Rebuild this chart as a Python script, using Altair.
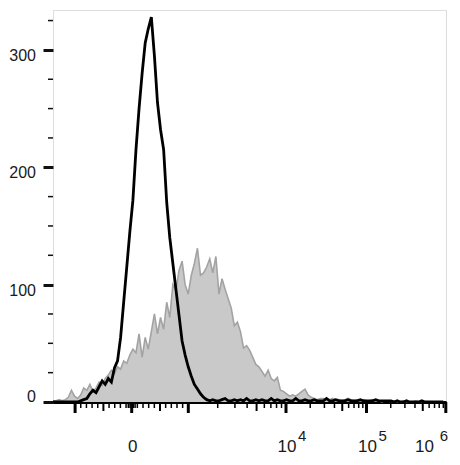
import math
import altair as alt
import pandas as pd

# ---------------- data ----------------
# 128 histogram bins on the display (channel) axis, channel 0..1023
n_bins = 128
channel = [i * 8 for i in range(n_bins)]

# isotype control (black outline)
isotype = [
    0, 0, 0, 0, 0, 0, 0, 0, 0,
    1, 2, 3, 7, 10, 8, 13, 18, 15, 20, 17, 29, 35, 55, 85, 115, 145, 172, 215, 250,
    280, 306, 318, 328, 295, 255, 232, 215, 170, 140, 118, 96, 74, 52, 40, 30, 22,
    15, 11, 7, 4, 2,
    1, 2, 1, 1, 2, 3, 1, 1, 2, 1, 2, 1, 3, 1, 1, 2, 1, 2, 1, 1,
    3, 1, 2, 1, 1, 2, 1, 1, 3, 1, 1, 2, 1, 1, 2, 1, 1, 1, 3, 1,
    1, 2, 1, 1, 1, 2, 1, 1, 1, 2, 1, 1, 1, 1, 2, 1, 1, 1, 1, 1,
    0, 1, 0, 0, 1, 0, 0, 0, 0, 1, 0, 0, 0, 0, 0, 0, 0,
]

# stained sample (grey filled)
stained = [
    1, 1, 2, 1, 2, 4, 10, 5, 3, 6, 12, 10, 15, 9, 12, 17, 14, 20, 23, 27,
    24, 30, 28, 35, 33, 40, 45, 42, 58, 38, 55, 45, 60, 75, 58, 72, 62, 85, 72, 100,
    95, 112, 120, 100, 92, 108, 118, 131, 108, 110, 115, 122, 110, 124, 92, 105, 96, 88, 80, 65,
    68, 60, 46, 48, 44, 38, 32, 30, 26, 22, 27, 20, 18, 21, 10, 9, 7, 5, 6, 5,
    7, 9, 11, 6, 4, 3, 2, 3, 3, 2, 2, 3, 2, 2, 1, 2, 3, 2, 1, 2,
    1, 2, 1, 1, 2, 1,
    1, 0, 1, 1, 0, 1, 0, 0, 1, 0, 0, 0, 1, 0, 0, 0, 0, 0, 0, 0, 0, 0,
]

# axis definitions (data values on the biexponential axis)
x_major_values = [-1000, 0, 1000, 1e4, 1e5, 1e6]
x_linear_minor = [-900, -800, -700, -600, -400, -300, -200, -100,
                  -60, -30, 30, 60, 100, 200, 300, 400, 600, 700, 800, 900]
x_linear_mid = [-500, 500]
x_log_minor_mult = [2, 3, 4, 6, 7, 8, 9]
x_log_mid_mult = [5]
x_decades = [1e3, 1e4, 1e5]

y_major = [0, 100, 200, 300]
y_minor = [25, 50, 75, 125, 150, 175, 225, 250, 275, 325]

# ---------------- axis transform (display of the cytometer software) ----------------
PLOT_W = 393
PLOT_H = 392
CH_MAX = 1023


def to_channel(v):
    """Map a fluorescence value onto the biexponential display channel."""
    if abs(v) <= 1000:
        px = 78.7 + v / 1000 * 56.6
    else:
        d = math.log10(v)
        if d <= 4:
            px = 135.3 + (d - 3) * 97.7
        else:
            px = 233.0 + (d - 4) * 80.5
    return px * CH_MAX / PLOT_W


hist = pd.DataFrame({"ch": channel, "isotype": isotype, "stained": stained})

x_scale = alt.Scale(domain=[0, CH_MAX], nice=False, zero=False)
y_scale = alt.Scale(domain=[0, 334], nice=False)

base = alt.Chart(hist)

area = base.mark_area(color="#c9c9c9", interpolate="linear").encode(
    x=alt.X("ch:Q", scale=x_scale,
            axis=alt.Axis(ticks=False, labels=False, grid=False, title=None,
                          domain=True, domainWidth=3, domainColor="#000000")),
    y=alt.Y("stained:Q", scale=y_scale,
            axis=alt.Axis(values=y_major, tickSize=10, tickWidth=3, tickColor="#111111",
                          labels=False, grid=False, domain=False, title=None)),
)
area_line = base.mark_line(color="#a3a3a3", strokeWidth=1.6).encode(
    x="ch:Q", y="stained:Q"
)
iso_line = base.mark_line(color="#000000", strokeWidth=2.8, strokeJoin="miter").encode(
    x="ch:Q", y="isotype:Q"
)

# x ticks
major_df = pd.DataFrame({"ch": [min(to_channel(v), CH_MAX - 0.5) for v in x_major_values]})
mid_vals = x_linear_mid + [m * d for d in x_decades for m in x_log_mid_mult]
minor_vals = x_linear_minor + [m * d for d in x_decades for m in x_log_minor_mult]
mid_df = pd.DataFrame({"ch": [to_channel(v) for v in mid_vals]})
minor_df = pd.DataFrame({"ch": [to_channel(v) for v in minor_vals]})

x_major_ticks = alt.Chart(major_df).mark_rule(color="#000000", strokeWidth=3).encode(
    x="ch:Q", y=alt.value(PLOT_H), y2=alt.value(PLOT_H + 11))
x_mid_ticks = alt.Chart(mid_df).mark_rule(color="#000000", strokeWidth=2).encode(
    x="ch:Q", y=alt.value(PLOT_H), y2=alt.value(PLOT_H + 9))
x_minor_ticks = alt.Chart(minor_df).mark_rule(color="#000000", strokeWidth=1.5).encode(
    x="ch:Q", y=alt.value(PLOT_H), y2=alt.value(PLOT_H + 6))

# y minor ticks
y_minor_ticks = alt.Chart(pd.DataFrame({"v": y_minor})).mark_rule(
    color="#111111", strokeWidth=1.5).encode(
    y=alt.Y("v:Q", scale=y_scale), x=alt.value(-5), x2=alt.value(0))

# y labels
FONT = "Liberation Sans"
YLAB_X = -17
ylab_hi = alt.Chart(pd.DataFrame({"v": [v for v in y_major if v > 0],
                                  "t": [str(v) for v in y_major if v > 0]})).mark_text(
    font=FONT, fontSize=16, align="right", baseline="top", dy=-2, color="#1a1a1a").encode(
    y=alt.Y("v:Q", scale=y_scale), x=alt.value(YLAB_X), text="t:N")
ylab_zero = alt.Chart(pd.DataFrame({"v": [v for v in y_major if v == 0],
                                    "t": [str(v) for v in y_major if v == 0]})).mark_text(
    font=FONT, fontSize=16, align="right", baseline="alphabetic", color="#1a1a1a").encode(
    y=alt.Y("v:Q", scale=y_scale), x=alt.value(YLAB_X), text="t:N")

# x labels
x_label_vals = [0, 1e4, 1e5, 1e6]
x_label_base = ["0", "10", "10", "10"]
x_label_exp = ["", "4", "5", "6"]
xl = pd.DataFrame({"ch": [to_channel(v) for v in x_label_vals],
                   "b": x_label_base, "e": x_label_exp})
xl_inner = xl.iloc[:3]
xl_last = xl.iloc[3:]
LAB_Y = PLOT_H + 50
xlab_base = alt.Chart(xl_inner).mark_text(
    font=FONT, fontSize=17, align="center", baseline="alphabetic", dx=1, color="#1a1a1a").encode(
    x="ch:Q", y=alt.value(LAB_Y), text="b:N")
xlab_exp = alt.Chart(xl_inner).mark_text(
    font=FONT, fontSize=15, align="left", baseline="alphabetic", dx=12, dy=-11, color="#1a1a1a").encode(
    x="ch:Q", y=alt.value(LAB_Y), text="e:N")
xlab_base_last = alt.Chart(xl_last).mark_text(
    font=FONT, fontSize=17, align="right", baseline="alphabetic", dx=-13, color="#1a1a1a").encode(
    x="ch:Q", y=alt.value(LAB_Y), text="b:N")
xlab_exp_last = alt.Chart(xl_last).mark_text(
    font=FONT, fontSize=15, align="right", baseline="alphabetic", dx=1, dy=-11, color="#1a1a1a").encode(
    x="ch:Q", y=alt.value(LAB_Y), text="e:N")

chart = alt.layer(
    area, area_line, iso_line,
    x_minor_ticks, x_mid_ticks, x_major_ticks, y_minor_ticks,
    ylab_hi, ylab_zero, xlab_base, xlab_exp, xlab_base_last, xlab_exp_last,
).properties(
    width=PLOT_W, height=PLOT_H,
    autosize=alt.AutoSizeParams(type="none"),
    padding={"left": 45, "top": 2, "right": 5, "bottom": 55},
).configure_view(
    stroke="#333333", strokeWidth=1.2
).configure(background="white")

chart.save("out.html", embed_options={"renderer": "svg", "actions": False})
